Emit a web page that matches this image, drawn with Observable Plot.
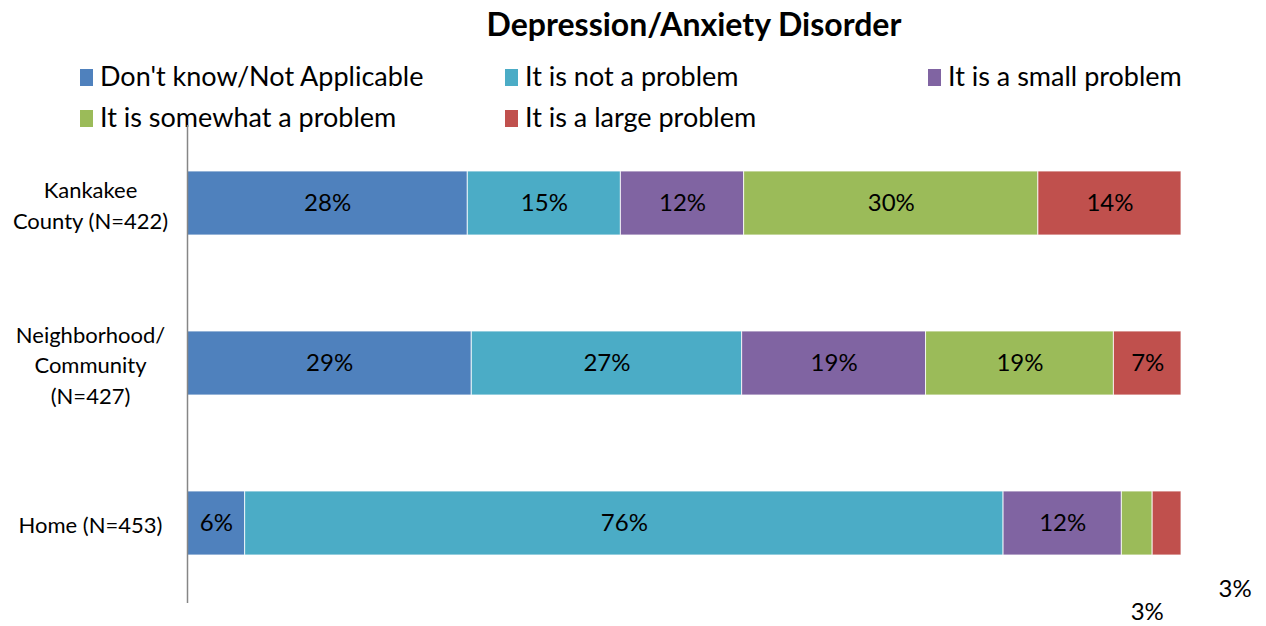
<!DOCTYPE html>
<html>
<head>
<meta charset="utf-8">
<script src="https://cdn.jsdelivr.net/npm/d3@7"></script>
<script src="https://cdn.jsdelivr.net/npm/@observablehq/plot@0.6"></script>
<style>
  html, body { margin: 0; padding: 0; background: #fff; }
  body { width: 1266px; height: 626px; position: relative; overflow: hidden; font-family: Lato, "Open Sans", sans-serif; }
  #title { position: absolute; left: 0; width: 1388px; top: 4px; text-align: center; font-weight: bold; font-size: 32px; color: #000; }
  .leg { position: absolute; font-size: 27px; color: #000; white-space: nowrap; line-height: 30px; }
  .leg span.sw { display: inline-block; width: 13px; height: 17px; margin-right: 7px; vertical-align: 0px; }
  #chart { position: absolute; left: 0; top: 0; }
</style>
</head>
<body>
<div id="title">Depression/Anxiety Disorder</div>
<div id="legend"></div>
<div id="chart"></div>
<script>
const groups = ["Kankakee County (N=422)", "Neighborhood/ Community (N=427)", "Home (N=453)"];
const groupLabels = ["Kankakee\nCounty (N=422)", "Neighborhood/\nCommunity\n(N=427)", "Home (N=453)"];
const categories = ["Don't know/Not Applicable", "It is not a problem", "It is a small problem", "It is somewhat a problem", "It is a large problem"];
const colors = ["#4F81BD", "#4BACC6", "#8064A2", "#9BBB59", "#C0504D"];
const kankakee = [28.2, 15.4, 12.4, 29.6, 14.4];
const neighborhood = [28.6, 27.2, 18.5, 18.9, 6.8];
const home = [5.8, 76.3, 11.9, 3.1, 2.9];

const seriesByGroup = [kankakee, neighborhood, home];
const rows = [];
groups.forEach((g, gi) => {
  let acc = 0;
  seriesByGroup[gi].forEach((v, ci) => {
    rows.push({group: g, category: categories[ci], value: v, x1: acc, x2: acc + v, mid: acc + v / 2, label: Math.round(v) + "%"});
    acc += v;
  });
});

// legend
const legendPos = [[80, 61], [505, 61], [928, 61], [80, 102], [505, 102]];
const legend = document.getElementById("legend");
categories.forEach((c, i) => {
  const d = document.createElement("div");
  d.className = "leg";
  d.style.left = legendPos[i][0] + "px";
  d.style.top = legendPos[i][1] + "px";
  d.innerHTML = `<span class="sw" style="background:${colors[i]}"></span>${c}`;
  legend.appendChild(d);
});

const labelRows = groups.map((g, i) => ({group: g, text: groupLabels[i]}));
const inside = rows.filter(d => d.value >= 5);
const homeGreen = rows.filter(d => d.group === groups[2] && d.category === categories[3]);
const homeRed = rows.filter(d => d.group === groups[2] && d.category === categories[4]);

const chart = Plot.plot({
  width: 1266,
  height: 626,
  marginLeft: 187,
  marginRight: 85,
  marginTop: 125,
  marginBottom: 23,
  style: {fontFamily: "Lato, 'Open Sans', sans-serif", background: "transparent"},
  x: {domain: [0, 100], axis: null},
  y: {domain: groups, range: [122, 603], paddingInner: 0.6, paddingOuter: 0.3, axis: null},
  color: {domain: categories, range: colors},
  marks: [
    Plot.barX(rows, {x1: "x1", x2: "x2", y: "group", fill: "category", stroke: "white", strokeWidth: 1, strokeOpacity: 0.8, inset: 0}),
    Plot.text(inside, {x: "mid", y: "group", text: "label", fontSize: 24, fill: "#000"}),
    Plot.text(homeGreen, {x: "mid", y: "group", text: "label", fontSize: 24, fill: "#000", dx: 10, dy: 89}),
    Plot.text(homeRed, {x: "mid", y: "group", text: "label", fontSize: 24, fill: "#000", dx: 68, dy: 66}),
    Plot.text(labelRows, {y: "group", text: "text", frameAnchor: "left", dx: -97, textAnchor: "middle", lineAnchor: "middle", lineHeight: 1.4, fontSize: 22, fill: "#000"}),
    Plot.ruleX([0], {stroke: "#868686", strokeWidth: 1.5})
  ]
});
document.getElementById("chart").appendChild(chart);
</script>
</body>
</html>
